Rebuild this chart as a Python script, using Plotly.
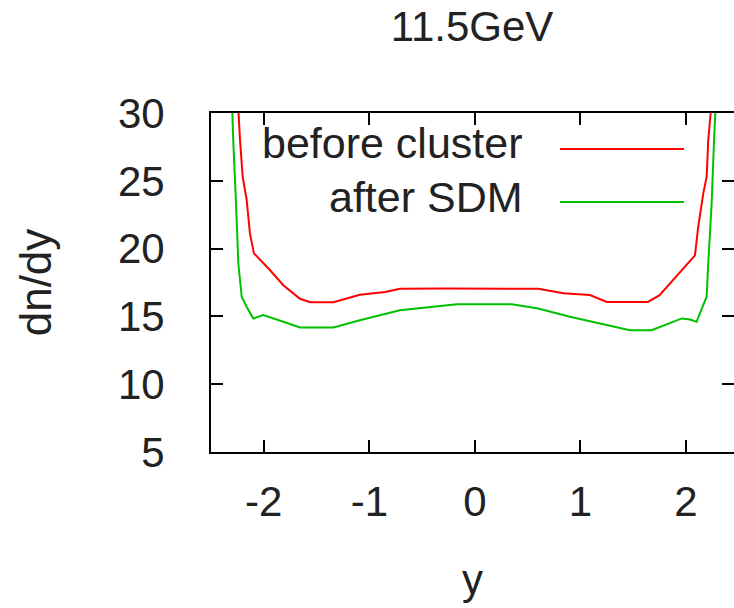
import plotly.graph_objects as go

# ---- data ----
rap_before = [-2.26, -2.241, -2.225, -2.20, -2.162, -2.131, -2.093, -1.94, -1.815, -1.657,
              -1.56, -1.34, -1.09, -0.85, -0.71, -0.30, 0.30, 0.60, 0.84, 1.09,
              1.25, 1.64, 1.75, 1.88, 2.085, 2.116, 2.164, 2.196, 2.211, 2.234, 2.25]
dndy_before = [33.0, 30.0, 28.0, 25.3, 23.6, 21.1, 19.65, 18.4, 17.3, 16.3,
               16.05, 16.05, 16.6, 16.8, 17.03, 17.05, 17.05, 17.03, 16.7, 16.57,
               16.07, 16.07, 16.57, 17.7, 19.5, 21.6, 24.07, 25.3, 28.0, 30.0, 33.0]

rap_after = [-2.31, -2.298, -2.289, -2.263, -2.241, -2.209, -2.162, -2.099, -2.005, -1.815,
             -1.657, -1.34, -1.09, -0.71, -0.39, -0.17, 0.35, 0.60, 0.90, 1.22,
             1.47, 1.675, 1.82, 1.96, 2.04, 2.10, 2.15, 2.196, 2.211, 2.243, 2.265, 2.284, 2.295]
dndy_after = [33.0, 30.0, 27.9, 23.3, 18.9, 16.45, 15.7, 14.85, 15.1, 14.6,
              14.18, 14.18, 14.72, 15.46, 15.7, 15.9, 15.9, 15.58, 14.97, 14.43,
              13.98, 13.98, 14.43, 14.85, 14.77, 14.6, 15.58, 16.45, 18.9, 23.3, 27.8, 30.0, 33.0]

series_names = ["before cluster", "after SDM"]
series_colors = ["#ff0000", "#00c000"]
x_ticks = [-2, -1, 0, 1, 2]
x_ticklabels = ["-2", "-1", "0", "1", "2"]
y_ticks = [5, 10, 15, 20, 25, 30]
title_text = "11.5GeV"

FONT = "Liberation Sans"
FS = 42
TXT = "#222"

fig = go.Figure()
fig.add_trace(go.Scatter(x=rap_before, y=dndy_before, mode="lines", name=series_names[0],
                         line=dict(color=series_colors[0], width=2), showlegend=False))
fig.add_trace(go.Scatter(x=rap_after, y=dndy_after, mode="lines", name=series_names[1],
                         line=dict(color=series_colors[1], width=2), showlegend=False))
# invisible trace to carry the right-hand ticks
fig.add_trace(go.Scatter(x=[0], y=[15], mode="lines", yaxis="y2", showlegend=False,
                         line=dict(width=0), hoverinfo="skip"))

axis_common = dict(showgrid=False, zeroline=False, linecolor="#000", linewidth=2,
                   ticks="inside", ticklen=12, tickwidth=2, tickcolor="#000",
                   tickfont=dict(family=FONT, size=FS, color=TXT))

fig.update_layout(
    width=734, height=608,
    margin=dict(l=211, r=0, t=113, b=156),
    paper_bgcolor="white", plot_bgcolor="white",
    font=dict(family=FONT, size=FS, color=TXT),
    title=dict(text=title_text, x=472/734, xref="container", xanchor="center",
               y=1-26/608, yref="container", yanchor="middle",
               font=dict(family=FONT, size=FS, color=TXT)),
    xaxis=dict(range=[-2.5, 2.455], tickvals=x_ticks, ticktext=x_ticklabels,
               showline=True, mirror="ticks", ticklabelstandoff=12,
               title=dict(text="y", standoff=40, font=dict(family=FONT, size=FS, color=TXT)),
               **axis_common),
    yaxis=dict(range=[5, 30], tickvals=y_ticks, showline=True, mirror=False,
               ticklabelstandoff=36,
               title=dict(text="dn/dy", standoff=52, font=dict(family=FONT, size=44, color=TXT)),
               **axis_common),
    yaxis2=dict(range=[5, 30], tickvals=y_ticks, overlaying="y", side="right",
                showline=False, showgrid=False, zeroline=False, ticks="inside",
                ticklen=12, tickwidth=2, tickcolor="#000", showticklabels=False),
)

# legend (gnuplot style: text then line sample)
leg_y = [0.894, 0.7375]
leg_text_y = [0.911, 0.753]
for name, col, yy, ty in zip(series_names, series_colors, leg_y, leg_text_y):
    fig.add_annotation(x=0.6004, y=ty, xref="paper", yref="paper", text=name,
                       showarrow=False, xanchor="right", yanchor="middle",
                       font=dict(family=FONT, size=43, color=TXT))
    fig.add_shape(type="line", xref="paper", yref="paper", x0=0.6673, x1=0.9044,
                  y0=yy, y1=yy, line=dict(color=col, width=2))

fig.write_html("out.html")
